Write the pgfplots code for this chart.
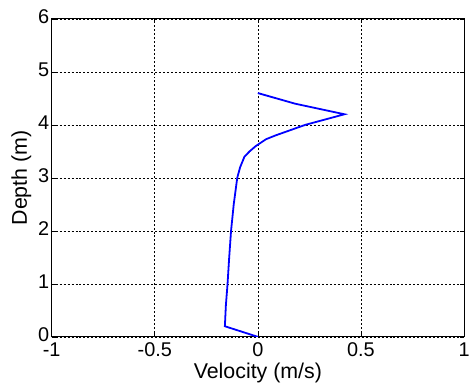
\documentclass[border=0pt]{standalone}
\usepackage{fontspec}
\setmainfont{Liberation Sans}
\usepackage{pgfplots}
\pgfplotsset{compat=1.18}
\begin{document}
\begin{tikzpicture}
\begin{axis}[
  name=ax,
  scale only axis,
  width=415pt, height=320pt,
  xmin=-1, xmax=1, ymin=0, ymax=6,
  xtick={-1,-0.5,0,0.5,1},
  ytick={0,1,2,3,4,5,6},
  xticklabels={-1,-0.5,0,0.5,1},
  grid=major,
  major grid style={black, dash pattern=on 2pt off 2pt, line width=0.6pt},
  tick align=inside,
  major tick length=4pt,
  axis line style={black, line width=0.8pt},
  tick style={black, line width=0.6pt},
  /pgf/number format/assume math mode=true,
  ticklabel style={font=\fontsize{20}{24}\selectfont},
  label style={font=\fontsize{21.5}{25}\selectfont},
  xlabel={Velocity (m/s)},
  ylabel={Depth (m)},
  xlabel style={yshift=0pt},
  ylabel style={yshift=0pt},
  yticklabel style={xshift=1pt, yshift=2.5pt},
  xticklabel style={yshift=-2pt},
]
\addplot[blue, line width=1.8pt] coordinates {
(0,0) (-0.16,0.2) (-0.155,0.6) (-0.147,1.0) (-0.139,1.5) (-0.13,2.0) (-0.117,2.5) (-0.10,3.0) (-0.086,3.2) (-0.065,3.4) (-0.04,3.5) (-0.01,3.6) (0.04,3.73) (0.085,3.8) (0.23,4.0) (0.42,4.2) (0.18,4.4) (0,4.6)
};
\end{axis}
\pgfresetboundingbox
\path[use as bounding box] ([xshift=-52pt,yshift=-50pt]ax.south west) rectangle ([xshift=6pt,yshift=19pt]ax.north east);
\end{tikzpicture}
\end{document}
